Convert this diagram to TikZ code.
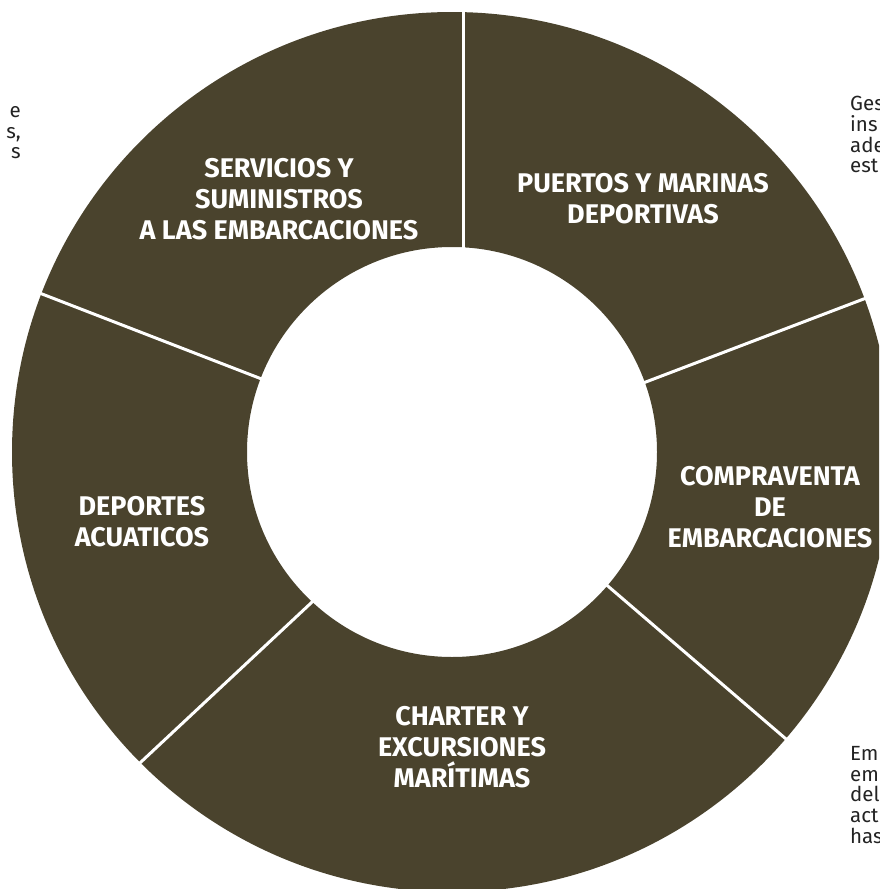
\documentclass[tikz,border=0pt]{standalone}
\usepackage{fontspec}
\setmainfont{Fira Sans}
\definecolor{ringfill}{RGB}{74,67,45}
\definecolor{notetext}{RGB}{35,35,35}

\begin{document}
\begin{tikzpicture}[
    x = 1pt, y = -1pt,
    label/.style = {font = \fontsize{27}{31}\selectfont\bfseries, text = white, align = center, inner sep = 0pt},
    note/.style = {font = \fontsize{20.5}{20.8}\selectfont, text = notetext, inner sep = 0pt},
    divider/.style = {draw = white, line width = 3pt}]

\useasboundingbox (0,0) rectangle (879,889);
\begin{scope}
\clip (0,0) rectangle (879,889);
% ring
\fill[ringfill, even odd rule] (452,452) circle[radius=440]
                               (452,452) circle[radius=205];
% dividers between the sectors
\draw[divider] (463,262) -- (463,0);
\draw[divider] (630,388) -- (882,292);
\draw[divider] (595,575) -- (800,751);
\draw[divider] (326,589) -- (126,776);
\draw[divider] (272,383) -- (24,287);
% texts cut by the edge
\node[note, anchor = north east, align = right] (left note) at (21,106) {e\\s,\\s};
\node[note, anchor = north west, align = left] (right note) at (850,96) {Ges\\ins\\ade\\est};
\node[note, anchor = north west, align = left] (bottom note) at (850,746) {Em\\em\\del\\act\\has};
\end{scope}

\node[label] (servicios) at (279,199) {SERVICIOS Y\\SUMINISTROS\\A LAS EMBARCACIONES};
\node[label] (puertos) at (643,199) {PUERTOS Y MARINAS\\DEPORTIVAS};
\node[label] (compraventa) at (770,507) {COMPRAVENTA\\DE\\EMBARCACIONES};
\node[label] (deportes) at (142,522) {DEPORTES\\ACUATICOS};
\node[label] (charter) at (462,747) {CHARTER Y\\EXCURSIONES\\MARÍTIMAS};
\end{tikzpicture}
\end{document}
